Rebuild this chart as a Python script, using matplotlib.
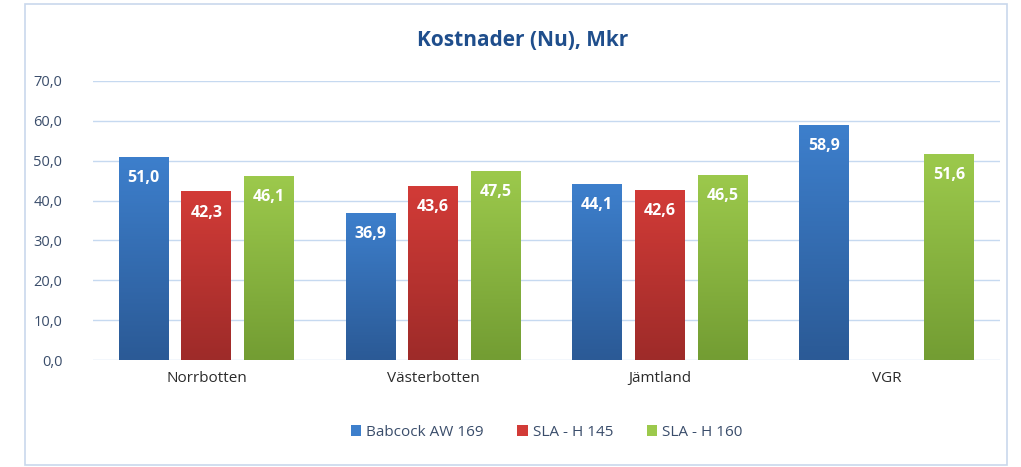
import numpy as np
import matplotlib.pyplot as plt
from matplotlib.patches import Rectangle
from matplotlib.colors import LinearSegmentedColormap

regions = ['Norrbotten', 'Västerbotten', 'Jämtland', 'VGR']
series = ['Babcock AW 169', 'SLA - H 145', 'SLA - H 160']
babcock = [51.0, 36.9, 44.1, 58.9]
sla145 = [42.3, 43.6, 42.6, np.nan]
sla160 = [46.1, 47.5, 46.5, 51.6]
yticks = [0, 10, 20, 30, 40, 50, 60, 70]

# top / bottom colours of the gradient fill
fills = [('#3d7fcc', '#2b5a96'), ('#d23b37', '#9e2b29'), ('#9cc94c', '#739d33')]

plt.rcParams['font.family'] = ['Open Sans', 'DejaVu Sans']

fig = plt.figure(figsize=(10.21, 4.67), dpi=100)
fig.patches.append(Rectangle((25/1021, 2/467), 982/1021, 461/467, transform=fig.transFigure,
                             fill=False, edgecolor='#c9d8ec', linewidth=1.2))
ax = fig.add_axes([93/1021, 1 - 360/467, 907/1021, 279/467])

x = np.arange(len(regions))
w = 0.22
step = 0.276
for i, (vals, name, (ctop, cbot)) in enumerate(zip([babcock, sla145, sla160], series, fills)):
    pos = x + (i - 1) * step
    bars = ax.bar(pos, np.nan_to_num(vals), w, color=ctop, label=name, zorder=2)
    cmap = LinearSegmentedColormap.from_list('g%d' % i, [cbot, ctop])
    for b, v in zip(bars, vals):
        if np.isnan(v):
            b.set_visible(False)
            continue
        x0, y0 = b.get_x(), b.get_y()
        grad = np.linspace(0, 1, 100).reshape(-1, 1)
        im = ax.imshow(grad, extent=[x0, x0 + b.get_width(), y0, y0 + b.get_height()],
                       origin='lower', aspect='auto', cmap=cmap, zorder=3)
        im.set_clip_path(b)
        ax.text(b.get_x() + b.get_width() / 2, v - 3.3, ('%.1f' % v).replace('.', ','),
                ha='center', va='top', color='white', fontsize=11.5, fontweight='bold', zorder=4)

ax.set_xlim(-0.5, len(regions) - 0.5)
ax.set_ylim(0, 70)
ax.set_yticks(yticks)
ax.set_yticklabels([('%.1f' % t).replace('.', ',') for t in yticks], color='#3a4d6b', fontsize=10.5)
ax.set_xticks(x)
ax.set_xticklabels(regions, fontsize=11, color='#2b2b2b')
ax.tick_params(axis='both', length=0, pad=8)
ax.tick_params(axis='y', pad=22)
ax.grid(axis='y', color='#c6d9f0', linewidth=1, zorder=0)
ax.set_axisbelow(True)
for s in ax.spines.values():
    s.set_visible(False)

fig.text(0.512, 1 - 40/467, 'Kostnader (Nu), Mkr', ha='center', va='center',
         fontsize=15, fontweight='bold', color='#1f4e8c')

leg = ax.legend(loc='center', bbox_to_anchor=(0.5, -0.26), ncol=3, frameon=False,
                fontsize=11, handlelength=0.7, handleheight=0.7, handletextpad=0.3,
                columnspacing=2.2)
for t in leg.get_texts():
    t.set_color('#3a4d6b')

fig.savefig('out.png', dpi=100)
